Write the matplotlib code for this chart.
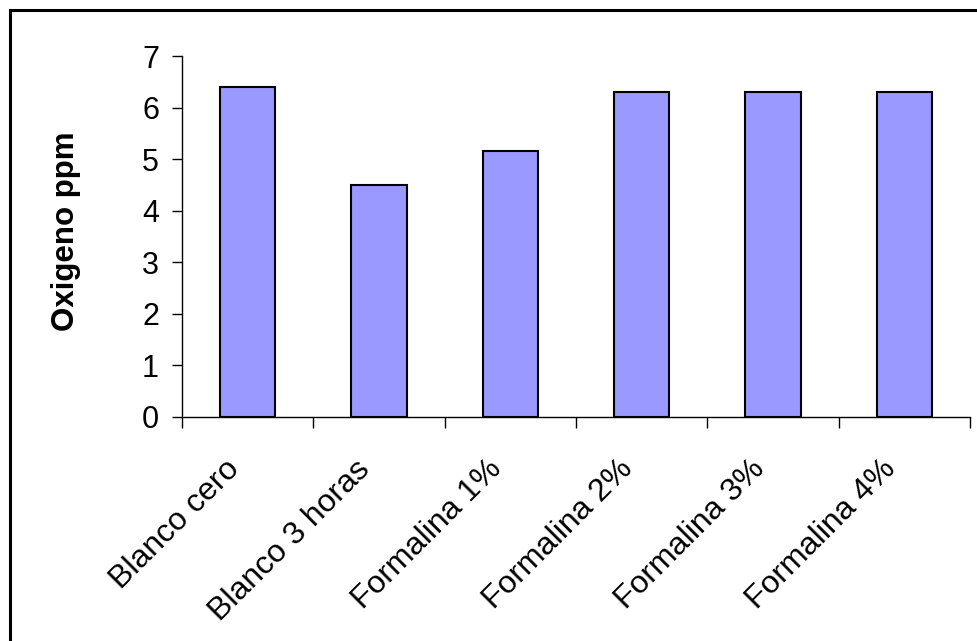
import matplotlib.pyplot as plt
import matplotlib.patches as patches
import numpy as np

plt.rcParams['font.family'] = ['Liberation Sans', 'DejaVu Sans']

categorias = ['Blanco cero', 'Blanco 3 horas', 'Formalina 1%', 'Formalina 2%',
              'Formalina 3%', 'Formalina 4%']
oxigeno = [6.40, 4.50, 5.16, 6.30, 6.30, 6.30]

fig = plt.figure(figsize=(9.77, 6.41), dpi=100)
ax = fig.add_axes([0.1863, 0.3495, 0.8065, 0.5631])

x = np.arange(len(categorias))
ax.bar(x, oxigeno, width=0.42, color='#9999FF', edgecolor='black', linewidth=1.5, zorder=3)

ax.set_xlim(-0.5, len(categorias) - 0.5)
ax.set_ylim(0, 7)
ax.set_yticks(range(0, 8))
ax.tick_params(axis='y', direction='out', length=7.5, width=1, labelsize=22, pad=9)

ax.set_xticks(x)
ax.set_xticklabels([])
ax.tick_params(axis='x', which='major', length=0)
ax.set_xticks(np.arange(-0.5, len(categorias)), minor=True)
ax.tick_params(axis='x', which='minor', direction='out', length=8, width=1)

for i, nombre in enumerate(categorias):
    ax.text(i - 0.18, -0.72, nombre, rotation=45, rotation_mode='anchor',
            ha='right', va='top', fontsize=23, clip_on=False)

for s in ['top', 'right']:
    ax.spines[s].set_visible(False)
for s in ['left', 'bottom']:
    ax.spines[s].set_linewidth(1)

ax.set_ylabel('Oxigeno ppm', fontsize=22.5, fontweight='bold')
ax.yaxis.set_label_coords(-0.128, 0.515)

borde = patches.Rectangle((10 / 977, -0.1), 1.2, 1 - 10 / 641 + 0.1, transform=fig.transFigure,
                          fill=False, edgecolor='black', linewidth=2.2)
fig.patches.append(borde)

fig.savefig('out.png', dpi=100)
